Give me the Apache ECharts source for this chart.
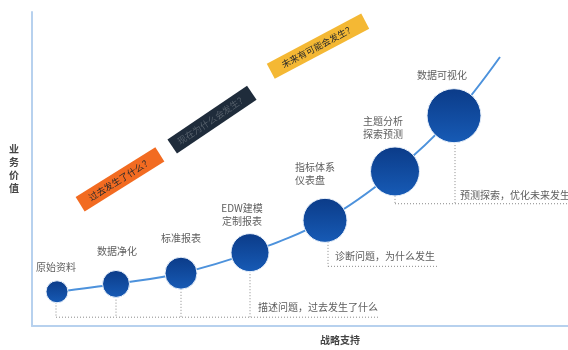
<!DOCTYPE html>
<html lang="zh">
<head>
<meta charset="UTF-8">
<title>数据分析价值曲线</title>
<script src="https://cdn.jsdelivr.net/npm/echarts@6/dist/echarts.min.js"></script>
<style>html,body{margin:0;padding:0;background:#fff}</style>
</head>
<body>
<div id="main" style="width:568px;height:350px;"></div>
<script>
// 各阶段（圆点）
var stageNames = ['原始资料', '数据净化', '标准报表', 'EDW建模\n定制报表', '指标体系\n仪表盘', '主题分析\n探索预测', '数据可视化']
var stageX = [25, 84, 149, 218, 293, 363, 422]
var stageY = [35, 43, 54, 75, 108, 158, 215]
var stageSize = [22, 27, 32, 38, 44, 49, 54]
// 曲线延伸到右上角
var curveEnd = [468, 275]

// 阶段名称的位置
var nameX = [24, 85, 149, 210, 263, 331, 410]
var nameY = [60, 76, 90, 114, 156, 203, 256]
var nameAlign = ['center', 'center', 'center', 'center', 'left', 'left', 'center']

// 三段说明
var noteText = ['描述问题，过去发生了什么', '诊断问题，为什么发生', '预测探索，优化未来发生']
var noteX = [226, 303, 428]
var noteY = [19, 71, 134]

// 虚线（每条两个端点）
var guideLines = [
	[[24, 24], [24, 9]],
	[[84, 30], [84, 9]],
	[[149, 38], [149, 9]],
	[[218, 56], [218, 9]],
	[[24, 9], [348, 9]],
	[[296, 86], [296, 61]],
	[[296, 61], [405, 61]],
	[[363, 133], [363, 125]],
	[[423, 188], [423, 125]],
	[[363, 125], [536, 125]]
]

// 斜放的彩色标签
var bannerText = ['过去发生了什么？', '现在为什么会发生？', '未来有可能会发生？']
var bannerX = [88, 180, 286]
var bannerY = [150, 211, 286]
var bannerAngle = [32, 34, 28]
var bannerWidth = [94, 96, 107]
var bannerColor = ['#f26b21', '#1f2c3b', '#f4b834']
var bannerTextColor = ['#2a2a2a', '#56606b', '#2a2a2a']

var font = 'Noto Sans CJK SC'
var myChart = echarts.init(document.getElementById('main'))

var curveData = []
var circleData = []
for (var i = 0; i < stageX.length; i++) {
	curveData.push([stageX[i], stageY[i]])
	circleData.push({ value: [stageX[i], stageY[i]], symbolSize: stageSize[i] })
}
curveData.push(curveEnd)

var nameData = []
for (var i = 0; i < stageNames.length; i++) {
	nameData.push({
		value: [nameX[i], nameY[i]],
		name: stageNames[i],
		label: { align: nameAlign[i] }
	})
}

var noteData = []
for (var i = 0; i < noteText.length; i++) {
	noteData.push({ value: [noteX[i], noteY[i]], name: noteText[i] })
}

var series = []
guideLines.forEach(function (seg) {
	series.push({
		type: 'line',
		data: seg,
		symbol: 'none',
		silent: true,
		z: 1,
		lineStyle: { color: '#8a8a8a', width: 1, type: [1, 2] }
	})
})
series.push({
	type: 'line',
	data: curveData,
	smooth: 0.35,
	symbol: 'none',
	z: 2,
	lineStyle: { color: '#4d92dc', width: 2 }
})
series.push({
	type: 'scatter',
	data: circleData,
	z: 3,
	itemStyle: {
		color: new echarts.graphic.LinearGradient(0, 0, 0, 1, [
			{ offset: 0, color: '#0b3b88' },
			{ offset: 1, color: '#175bb6' }
		]),
		borderColor: '#e8f0fa',
		borderWidth: 1,
		opacity: 1
	}
})
series.push({
	type: 'scatter',
	data: nameData,
	symbolSize: 0,
	z: 4,
	label: {
		show: true,
		position: 'inside',
		formatter: '{b}',
		fontFamily: font,
		fontSize: 10,
		lineHeight: 13,
		color: '#333'
	}
})
series.push({
	type: 'scatter',
	data: noteData,
	symbolSize: 0,
	z: 4,
	label: {
		show: true,
		position: 'inside',
		align: 'left',
		formatter: '{b}',
		fontFamily: font,
		fontSize: 10,
		color: '#333'
	}
})

var option = {
	animation: false,
	grid: { left: 32, right: 0, top: 12, bottom: 17 },
	xAxis: {
		type: 'value',
		min: 0,
		max: 536,
		name: '战略支持',
		nameLocation: 'middle',
		nameGap: 9,
		nameTextStyle: { fontFamily: font, fontSize: 10, fontWeight: 'bold', color: '#444', padding: [0, 0, 0, 80] },
		axisLine: { show: true, lineStyle: { color: '#b7d1ee', width: 2 } },
		axisTick: { show: false },
		axisLabel: { show: false },
		splitLine: { show: false }
	},
	yAxis: {
		type: 'value',
		min: 0,
		max: 321,
		name: '业\n务\n价\n值',
		nameLocation: 'middle',
		nameRotate: 0,
		nameGap: 13,
		nameTextStyle: { fontFamily: font, fontSize: 10, lineHeight: 13, fontWeight: 'bold', color: '#444', padding: [0, 0, 14, 0] },
		axisLine: { show: true, lineStyle: { color: '#b7d1ee', width: 2 } },
		axisTick: { show: false },
		axisLabel: { show: false },
		splitLine: { show: false }
	},
	series: series
}
myChart.setOption(option)

// 彩色斜标签，位置由坐标系换算
var graphics = []
for (var i = 0; i < bannerText.length; i++) {
	var p = myChart.convertToPixel({ gridIndex: 0 }, [bannerX[i], bannerY[i]])
	var w = bannerWidth[i]
	var h = 17
	graphics.push({
		type: 'group',
		x: p[0],
		y: p[1],
		rotation: bannerAngle[i] * Math.PI / 180,
		children: [
			{ type: 'rect', shape: { x: -w / 2, y: -h / 2, width: w, height: h }, style: { fill: bannerColor[i] } },
			{ type: 'text', style: { text: bannerText[i], x: 0, y: 0, align: 'center', verticalAlign: 'middle', fill: bannerTextColor[i], fontFamily: font, fontSize: 9 } }
		]
	})
}
myChart.setOption({ graphic: graphics })
</script>
</body>
</html>
